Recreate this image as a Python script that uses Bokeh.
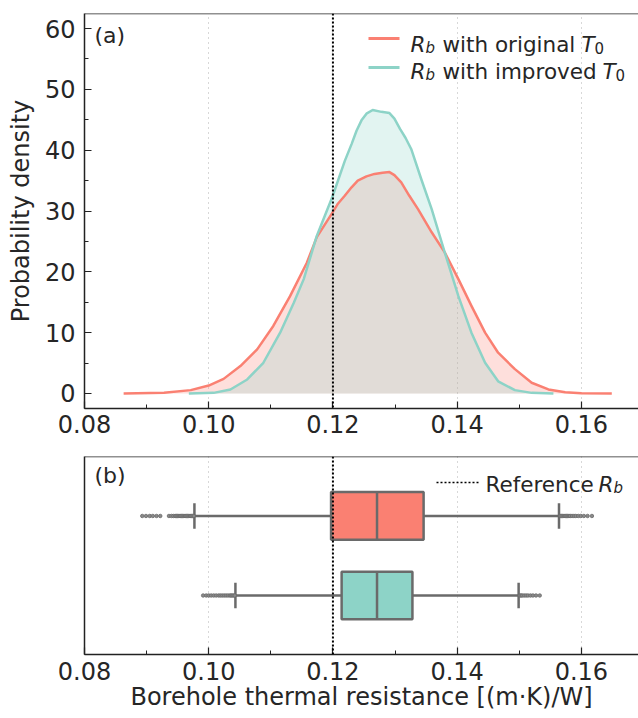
from bokeh.plotting import figure
from bokeh.layouts import column
from bokeh.models import (Range1d, Span, Label, Arrow, SingleIntervalTicker,
                          PrintfTickFormatter, FixedTicker)
from bokeh.embed import file_html
from bokeh.resources import INLINE

# ---------------- data ----------------
red_x = [0.0863, 0.0928, 0.0971, 0.1000, 0.1024, 0.1051, 0.1078, 0.1104, 0.1131,
         0.1158, 0.1174, 0.1199, 0.1208, 0.1219, 0.1230, 0.1240, 0.1254, 0.1267,
         0.1280, 0.1291, 0.1299, 0.1310, 0.1323, 0.1337, 0.1359, 0.1380, 0.1402,
         0.1423, 0.1445, 0.1466, 0.1493, 0.1520, 0.1547, 0.1574, 0.1600, 0.1649]
red_d = [0.0, 0.1, 0.55, 1.3, 2.4, 4.5, 7.25, 11.1, 16.0,
         21.5, 25.7, 29.7, 31.2, 32.5, 33.9, 35.0, 35.7, 36.1,
         36.3, 36.4, 35.9, 34.7, 32.5, 30.3, 26.5, 23.2, 18.8,
         14.4, 10.0, 6.7, 4.0, 1.76, 0.66, 0.2, 0.05, 0.0]

teal_x = [0.0968, 0.1008, 0.1035, 0.1062, 0.1088, 0.1115, 0.1137, 0.1153, 0.1174,
          0.1199, 0.1219, 0.1230, 0.1238, 0.1246, 0.1254, 0.1264, 0.1278, 0.1291,
          0.1299, 0.1308, 0.1317, 0.1326, 0.1342, 0.1359, 0.1380, 0.1402, 0.1423,
          0.1445, 0.1466, 0.1493, 0.1520, 0.1555]
teal_d = [0.0, 0.1, 0.66, 2.3, 5.05, 10.0, 14.9, 18.8, 25.9,
          32.3, 38.2, 41.0, 43.2, 44.9, 46.0, 46.6, 46.3, 46.1,
          45.2, 43.5, 42.0, 40.2, 35.3, 30.3, 23.2, 16.0, 10.0,
          5.05, 2.0, 0.55, 0.1, 0.0]

categories = ["original", "improved"]
q1 = [0.1197, 0.1214]
median = [0.1271, 0.1271]
q3 = [0.1346, 0.1328]
whislo = [0.0977, 0.1043]
whishi = [0.1564, 0.1499]
out_low = [
    [0.0893, 0.0899, 0.0905, 0.0910, 0.0916, 0.0922, 0.0936, 0.0940, 0.0943,
     0.0946, 0.0948, 0.0950, 0.0952, 0.0954, 0.0956, 0.0958, 0.0960, 0.0962,
     0.0964, 0.0966, 0.0968, 0.0970, 0.0972, 0.0974, 0.0976],
    [0.0991, 0.0996, 0.1000, 0.1004, 0.1008, 0.1012, 0.1016, 0.1019, 0.1022,
     0.1025, 0.1028, 0.1031, 0.1034, 0.1036, 0.1038, 0.1040, 0.1042],
]
out_high = [
    [0.1566, 0.1568, 0.1570, 0.1572, 0.1574, 0.1576, 0.1578, 0.1580, 0.1582,
     0.1585, 0.1588, 0.1591, 0.1595, 0.1599, 0.1604, 0.1610, 0.1617],
    [0.1501, 0.1503, 0.1505, 0.1508, 0.1511, 0.1514, 0.1518, 0.1522, 0.1527,
     0.1533],
]
reference_rb = 0.12

# ---------------- style ----------------
RED = "#FA8072"
TEAL = "#8DD3C7"
EDGE = "#6A6A6A"
AX = "#222222"
TXT = "#262626"
FONT = "DejaVu Sans"
TICK_FS = "24px"
LAB_FS = "24px"
LEG_FS = "21.5px"
SUB_FS = "15px"

X0, X1 = 0.08, 0.1692
Y0, Y1 = -2.47, 62.47
B0, B1 = 1.742, -0.748


def style_axis(ax):
    ax.axis_line_color = AX
    ax.axis_line_width = 1.5
    ax.major_tick_in = 7
    ax.major_tick_out = 0
    ax.minor_tick_in = 4
    ax.minor_tick_out = 0
    ax.major_tick_line_color = AX
    ax.major_tick_line_width = 1.2
    ax.minor_tick_line_color = AX
    ax.minor_tick_line_width = 1.0
    ax.major_label_text_font = FONT
    ax.major_label_text_font_size = TICK_FS
    ax.major_label_text_color = TXT
    ax.axis_label_text_font = FONT
    ax.axis_label_text_font_size = LAB_FS
    ax.axis_label_text_font_style = "normal"
    ax.axis_label_text_color = TXT


def lab(p, x, y, text, style="normal", size=LEG_FS):
    p.add_layout(Label(x=x, y=y, x_units="screen", y_units="screen", text=text,
                       text_font=FONT, text_font_style=style, text_font_size=size,
                       text_color=TXT, text_baseline="alphabetic", text_align="left"))


# ---------------- (a) density ----------------
p1 = figure(width=638, height=448, x_range=Range1d(X0, X1), y_range=Range1d(Y0, Y1),
            output_backend="svg", toolbar_location=None,
            min_border_left=84, min_border_right=0, min_border_top=13, min_border_bottom=40)
p1.outline_line_color = None
p1.background_fill_color = "white"
p1.ygrid.visible = False

xt = SingleIntervalTicker(interval=0.02, num_minor_ticks=2)
p1.xaxis.ticker = xt
p1.xaxis.formatter = PrintfTickFormatter(format="%.2f")
p1.yaxis.ticker = SingleIntervalTicker(interval=10, num_minor_ticks=2)
p1.yaxis.formatter = PrintfTickFormatter(format="%d")
style_axis(p1.xaxis[0])
style_axis(p1.yaxis[0])
p1.xaxis.major_label_standoff = 6
p1.yaxis.major_label_standoff = 9
p1.yaxis.axis_label = "Probability density"
p1.yaxis.axis_label_standoff = 7
p1.xgrid.ticker = xt
p1.xgrid.grid_line_color = "#b0b0b0"
p1.xgrid.grid_line_dash = "1 4"
p1.xgrid.grid_line_width = 1

p1.varea(x=red_x, y1=0, y2=red_d, fill_color=RED, fill_alpha=0.25)
p1.varea(x=teal_x, y1=0, y2=teal_d, fill_color=TEAL, fill_alpha=0.25)
p1.line(red_x, red_d, line_color=RED, line_width=2.5, line_join="round")
p1.line(teal_x, teal_d, line_color=TEAL, line_width=2.5, line_join="round")

p1.add_layout(Span(location=reference_rb, dimension="height", line_color="black",
                   line_width=2, line_dash="2 2"))
p1.add_layout(Span(location=Y1, dimension="width", line_color=AX, line_width=1.5))

# legend (a)
p1.add_layout(Arrow(x_start=284, y_start=370, x_end=315, y_end=370, start_units="screen",
                    end_units="screen", end=None, line_color=RED, line_width=3))
p1.add_layout(Arrow(x_start=284, y_start=341, x_end=315, y_end=341, start_units="screen",
                    end_units="screen", end=None, line_color=TEAL, line_width=3))
lab(p1, 326, 364, "R", "italic")
lab(p1, 341, 360.5, "b", "italic", SUB_FS)
lab(p1, 358, 364, "with original")
lab(p1, 497, 364, "T", "italic")
lab(p1, 510, 360.5, "0", "normal", SUB_FS)
lab(p1, 326, 337, "R", "italic")
lab(p1, 341, 333.5, "b", "italic", SUB_FS)
lab(p1, 358, 337, "with improved")
lab(p1, 518, 337, "T", "italic")
lab(p1, 531, 333.5, "0", "normal", SUB_FS)
lab(p1, 10, 373, "(a)", "normal", "22px")

# ---------------- (b) box plots ----------------
p2 = figure(width=638, height=270, x_range=Range1d(X0, X1), y_range=Range1d(B0, B1),
            output_backend="svg", toolbar_location=None,
            min_border_left=84, min_border_right=0, min_border_top=8, min_border_bottom=64)
p2.outline_line_color = None
p2.ygrid.visible = False
xt2 = SingleIntervalTicker(interval=0.02, num_minor_ticks=2)
p2.xaxis.ticker = xt2
p2.xaxis.formatter = PrintfTickFormatter(format="%.2f")
style_axis(p2.xaxis[0])
style_axis(p2.yaxis[0])
p2.xaxis.major_label_standoff = 7
p2.xaxis.axis_label = "Borehole thermal resistance [(m\u00b7K)/W]"
p2.xaxis.axis_label_standoff = 0
p2.yaxis.ticker = FixedTicker(ticks=[])
p2.yaxis.major_tick_line_color = None
p2.yaxis.minor_tick_line_color = None
p2.yaxis.major_label_text_font_size = "0px"
p2.xgrid.ticker = xt2
p2.xgrid.grid_line_color = "#b0b0b0"
p2.xgrid.grid_line_dash = "1 4"
p2.xgrid.grid_line_width = 1

pos = list(range(len(categories)))
colors = [RED, TEAL]
BOXH = 0.6
CAPH = 0.16

p2.segment(x0=whislo, y0=pos, x1=q1, y1=pos, line_color=EDGE, line_width=2.5)
p2.segment(x0=q3, y0=pos, x1=whishi, y1=pos, line_color=EDGE, line_width=2.5)
p2.segment(x0=whislo, y0=[v - CAPH for v in pos], x1=whislo, y1=[v + CAPH for v in pos],
           line_color=EDGE, line_width=2.5)
p2.segment(x0=whishi, y0=[v - CAPH for v in pos], x1=whishi, y1=[v + CAPH for v in pos],
           line_color=EDGE, line_width=2.5)
ox, oy = [], []
for i in pos:
    for v in out_low[i] + out_high[i]:
        ox.append(v)
        oy.append(i)
p2.scatter(ox, oy, marker="circle", size=3.5, fill_color="#8a8a8a", line_color=EDGE,
           line_width=0.8)
p2.hbar(y=pos, left=q1, right=q3, height=BOXH, fill_color=colors, line_color=EDGE,
        line_width=2.5)
p2.segment(x0=median, y0=[v - BOXH / 2 for v in pos], x1=median,
           y1=[v + BOXH / 2 for v in pos], line_color=EDGE, line_width=2.5)

p2.add_layout(Span(location=reference_rb, dimension="height", line_color="black",
                   line_width=2, line_dash="2 2"))
p2.add_layout(Span(location=B1, dimension="width", line_color=AX, line_width=1.5))

# legend (b)
p2.add_layout(Arrow(x_start=352, y_start=172, x_end=394, y_end=172, start_units="screen",
                    end_units="screen", end=None, line_color="black", line_width=1.5,
                    line_dash="2 2"))
lab(p2, 401, 170, "Reference")
lab(p2, 514, 170, "R", "italic")
lab(p2, 529, 166.5, "b", "italic", SUB_FS)
lab(p2, 10, 179, "(b)", "normal", "22px")

layout = column(p1, p2, spacing=0)
open("out.html", "w").write(file_html(layout, INLINE))
